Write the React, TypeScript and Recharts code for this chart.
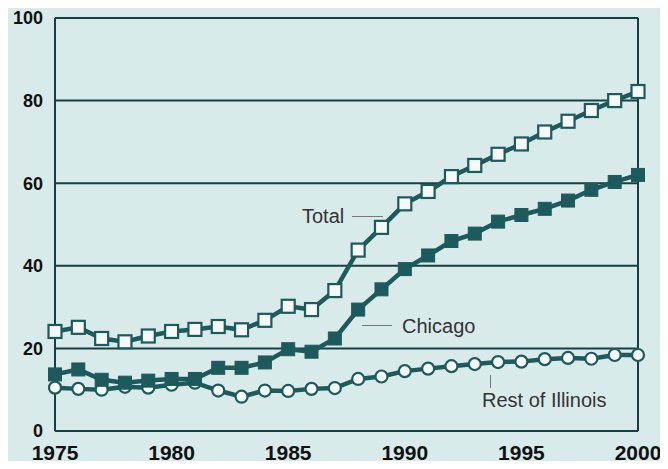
import { LineChart, Line, XAxis, YAxis, CartesianGrid, ReferenceLine } from "recharts";

const years = [
  1975, 1976, 1977, 1978, 1979, 1980, 1981, 1982, 1983, 1984, 1985, 1986, 1987,
  1988, 1989, 1990, 1991, 1992, 1993, 1994, 1995, 1996, 1997, 1998, 1999, 2000,
];
const total = [
  24.1, 25.1, 22.4, 21.6, 23.0, 24.1, 24.6, 25.3, 24.5, 26.8, 30.2, 29.4, 34.0,
  43.8, 49.3, 55.0, 58.0, 61.6, 64.3, 67.0, 69.5, 72.4, 75.0, 77.6, 80.0, 82.2,
];
const chicago = [
  13.7, 14.9, 12.4, 11.7, 12.2, 12.6, 12.6, 15.3, 15.3, 16.6, 19.8, 19.2, 22.4,
  29.4, 34.3, 39.2, 42.5, 46.0, 47.8, 50.7, 52.3, 53.8, 55.8, 58.4, 60.3, 62.0,
];
const restOfIllinois = [
  10.5, 10.2, 10.0, 10.7, 10.5, 11.2, 11.7, 9.8, 8.3, 9.8, 9.7, 10.2, 10.4,
  12.6, 13.2, 14.5, 15.1, 15.7, 16.2, 16.7, 16.8, 17.4, 17.7, 17.5, 18.4, 18.4,
];
const xTicks = [1975, 1980, 1985, 1990, 1995, 2000];
const yTicks = [0, 20, 40, 60, 80, 100];

const data = years.map((year, i) => ({
  year,
  total: total[i],
  chicago: chicago[i],
  rest: restOfIllinois[i],
}));

const ink = "#1d5a5c";
const gridInk = "#173f42";
const bg = "#d9eaea";

const OpenSquare = (props: any) => {
  const { cx, cy } = props;
  if (cx == null || cy == null) return null;
  return <rect x={cx - 6.5} y={cy - 6.5} width={13} height={13} fill="#f4f8f7" stroke={ink} strokeWidth={2.2} />;
};

const FilledSquare = (props: any) => {
  const { cx, cy } = props;
  if (cx == null || cy == null) return null;
  return <rect x={cx - 6.5} y={cy - 6.5} width={13} height={13} fill={ink} stroke={ink} strokeWidth={1} />;
};

const OpenCircle = (props: any) => {
  const { cx, cy } = props;
  if (cx == null || cy == null) return null;
  return <circle cx={cx} cy={cy} r={6} fill="#f4f8f7" stroke={ink} strokeWidth={2.2} />;
};

const note: React.CSSProperties = {
  position: "absolute",
  fontFamily: "'Liberation Sans', Arial, sans-serif",
  fontSize: 20,
  color: "#333",
  lineHeight: "20px",
  whiteSpace: "nowrap",
};

const lead: React.CSSProperties = { position: "absolute", background: "#777" };

export default function App() {
  return (
    <div style={{ position: "relative", margin: -8, width: 668, height: 469, background: bg, overflow: "hidden" }}>
      <LineChart
        width={668}
        height={469}
        data={data}
        margin={{ top: 18, right: 30, bottom: 0, left: 0 }}
      >
        <CartesianGrid vertical={false} stroke={gridInk} strokeWidth={2} />
        <XAxis
          dataKey="year"
          type="number"
          domain={[1975, 2000]}
          ticks={xTicks}
          height={38}
          tickSize={0}
          tickMargin={14}
          stroke={gridInk}
          strokeWidth={2}
          tick={{ fill: "#111", fontSize: 21, fontWeight: 700, fontFamily: "'Liberation Sans', Arial, sans-serif" }}
        />
        <YAxis
          domain={[0, 100]}
          ticks={yTicks}
          width={55}
          tickSize={0}
          tickMargin={12}
          stroke={gridInk}
          strokeWidth={2}
          tick={{ fill: "#111", fontSize: 18, fontWeight: 700, fontFamily: "'Liberation Sans', Arial, sans-serif" }}
        />
        <ReferenceLine x={2000} stroke={gridInk} strokeWidth={2} />
        <Line
          dataKey="rest"
          stroke={ink}
          strokeWidth={4.5}
          dot={<OpenCircle />}
          isAnimationActive={false}
        />
        <Line
          dataKey="chicago"
          stroke={ink}
          strokeWidth={4.5}
          dot={<FilledSquare />}
          isAnimationActive={false}
        />
        <Line
          dataKey="total"
          stroke={ink}
          strokeWidth={4.5}
          dot={<OpenSquare />}
          isAnimationActive={false}
        />
      </LineChart>
      <div style={{ ...note, left: 302, top: 206 }}>Total</div>
      <div style={{ ...lead, left: 352, top: 216, width: 31, height: 1 }} />
      <div style={{ ...note, left: 402, top: 316 }}>Chicago</div>
      <div style={{ ...lead, left: 362, top: 325, width: 30, height: 1 }} />
      <div style={{ ...note, left: 482, top: 390 }}>Rest of Illinois</div>
      <div style={{ ...lead, left: 490, top: 375, width: 1, height: 13 }} />
    </div>
  );
}
